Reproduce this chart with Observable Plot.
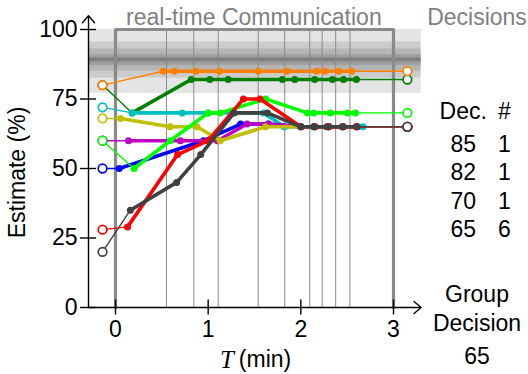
<!DOCTYPE html>
<html><head><meta charset="utf-8">
<script src="https://cdn.jsdelivr.net/npm/d3@7"></script>
<script src="https://cdn.jsdelivr.net/npm/@observablehq/plot@0.6"></script>
<style>body{margin:0;background:#fff}#chart svg{display:block}</style>
</head><body><div id="chart"></div>
<script>
// ---- data ----
const xTicks = [0, 1, 2, 3];
const yTicks = [0, 25, 50, 75, 100];
const xDomain = [-0.2914, 3.2989];
const commWindow = [0, 3];
const initT = -0.14;
const finalT = 3.15;
const changeTimes = [0.55, 0.845, 1.108, 1.54, 1.826, 2.096, 2.23, 2.376, 2.53];
const bandLow = [77, 82.5, 85, 87, 88];
const bandHigh = [100, 95.5, 93, 91, 90];
const bandCenter = [89.3];

const people = ["orange", "darkgreen", "cyan", "blue", "magenta", "olive", "lime", "red", "darkgray"];
const colors = ["#ff8000", "#008000", "#00bfbf", "#0000ff", "#bf00bf", "#bfbf00", "#00ff00", "#ff0000", "#404040"];
const initialEst = [80, 80, 72, 50, 60, 68, 60, 28, 20];
const finalEst = [85, 82, 65, 65, 65, 65, 70, 65, 65];

const tOrange = [0.515, 0.637, 0.87, 1.12, 1.54, 1.85, 2.17, 2.26, 2.41, 2.55];
const vOrange = [85, 85, 85, 85, 85, 85, 85, 85, 85, 85];
const tDarkGreen = [0.18, 0.817, 1.018, 1.216, 1.80, 1.935, 2.15, 2.34, 2.46, 2.60];
const vDarkGreen = [70, 82, 82, 82, 82, 82, 82, 82, 82, 82];
const tCyan = [0.18, 0.72, 1.0, 1.6, 1.82, 2.0, 2.14, 2.3, 2.45, 2.67];
const vCyan = [70, 70, 70, 70, 65, 65, 65, 65, 65, 65];
const tBlue = [0.04, 0.95, 1.35, 1.65, 2.0, 2.15, 2.3, 2.45, 2.6];
const vBlue = [50, 60, 66, 66, 65, 65, 65, 65, 65];
const tMagenta = [0.14, 0.70, 1.1, 1.42, 1.65, 2.0, 2.15, 2.3, 2.45, 2.6];
const vMagenta = [60, 60, 60, 66, 66, 65, 65, 65, 65, 65];
const tOlive = [0.054, 0.59, 0.88, 1.13, 1.62, 2.0, 2.15, 2.3, 2.45, 2.6];
const vOlive = [68, 65, 65, 60, 65, 65, 65, 65, 65, 65];
const tLime = [0.2, 0.59, 1.0, 1.13, 1.62, 2.07, 2.14, 2.32, 2.5, 2.59];
const vLime = [50, 60, 70, 70, 75, 70, 70, 70, 70, 70];
const tRed = [0.13, 0.67, 1.0, 1.38, 1.56, 2.0, 2.15, 2.3, 2.45, 2.6];
const vRed = [29, 55, 60, 75, 75, 65, 65, 65, 65, 65];
const tDarkGray = [0.16, 0.66, 0.92, 1.28, 1.64, 2.0, 2.14, 2.28, 2.46, 2.61];
const vDarkGray = [35, 45, 55, 70, 70, 65, 65, 65, 65, 65];

const seriesT = [tOrange, tDarkGreen, tCyan, tBlue, tMagenta, tOlive, tLime, tRed, tDarkGray];
const seriesV = [vOrange, vDarkGreen, vCyan, vBlue, vMagenta, vOlive, vLime, vRed, vDarkGray];

const decValues = [85, 82, 70, 65];
const decCounts = [1, 1, 1, 6];
const groupDecision = 65;

// ---- build ----
const FONT = "Liberation Sans";
const FS = 23;
const bands = bandLow.map((lo, i) => ({lo, hi: bandHigh[i]}));
const frame = [
  {x: commWindow[0], y: 0}, {x: commWindow[0], y: 100},
  {x: commWindow[1], y: 100}, {x: commWindow[1], y: 0}
];

function personMarks(i) {
  const t = seriesT[i], v = seriesV[i], c = colors[i];
  const pts = t.map((x, k) => ({x, y: v[k]}));
  return [
    Plot.line([{x: initT, y: initialEst[i]}, pts[0]], {x: "x", y: "y", stroke: c, strokeWidth: 1.4}),
    Plot.line([pts[pts.length - 1], {x: finalT, y: finalEst[i]}], {x: "x", y: "y", stroke: c, strokeWidth: 1.4}),
    Plot.line(pts, {x: "x", y: "y", stroke: c, strokeWidth: 3.6, strokeLinejoin: "round"}),
    Plot.dot(pts, {x: "x", y: "y", r: 3.5, fill: c})
  ];
}
const circleOrder = [1, 0, 2, 3, 4, 5, 6, 7, 8];
const circleMarks = circleOrder.flatMap(i => [
  Plot.dot([initialEst[i]], {x: initT, y: d => d, r: 4.3, fill: "white", stroke: colors[i], strokeWidth: 1.7}),
  Plot.dot([finalEst[i]], {x: finalT, y: d => d, r: 4.3, fill: "white", stroke: colors[i], strokeWidth: 1.7})
]);

const txt = {fontFamily: FONT, fontSize: FS, fill: "black", textAnchor: "middle", lineAnchor: "middle"};

const chart = Plot.plot({
  width: 528, height: 374,
  marginLeft: 88, marginRight: 107.3, marginTop: 29, marginBottom: 67,
  x: {domain: xDomain, axis: null},
  y: {domain: [0, 100], axis: null},
  style: {fontFamily: FONT, background: "white", overflow: "visible"},
  marks: [
    Plot.rect(bands, {x1: xDomain[0], x2: xDomain[1], y1: "lo", y2: "hi", fill: "black", fillOpacity: 0.105}),
    Plot.ruleY(bandCenter, {x1: xDomain[0], x2: xDomain[1], stroke: "#7a7a7a", strokeWidth: 2}),
    Plot.ruleX(changeTimes, {y1: 0, y2: 100, stroke: "#8a8a8a", strokeWidth: 1}),
    Plot.line(frame, {x: "x", y: "y", stroke: "#8a8a8a", strokeWidth: 3.2}),
    ...people.flatMap((p, i) => personMarks(i)),
    ...circleMarks,
    // axes
    Plot.arrow([0], {x1: xDomain[0], x2: xDomain[1], y1: 0, y2: 0, stroke: "black", strokeWidth: 1.4, headLength: 10, headAngle: 80}),
    Plot.arrow([0], {x1: xDomain[0], x2: xDomain[0], y1: 0, y2: 105, stroke: "black", strokeWidth: 1.4, headLength: 10, headAngle: 80}),
    Plot.tickY(yTicks, {y: d => d, dx: -8, insetRight: 316.7, stroke: "black", strokeWidth: 1.4}),
    Plot.tickX(xTicks, {x: d => d, dy: 7.5, insetTop: 263, stroke: "black", strokeWidth: 1.4}),
    Plot.text(yTicks, {y: d => d, text: d => String(d), frameAnchor: "left", dx: -11, ...txt, textAnchor: "end"}),
    Plot.text(xTicks, {x: d => d, text: d => String(d), frameAnchor: "bottom", dy: 22.5, ...txt}),
    Plot.text(["Estimate (%)"], {text: d => d, frameAnchor: "left", dx: -70.4, dy: 4, rotate: -90, ...txt}),
    Plot.text(["T"], {text: d => d, frameAnchor: "bottom", dx: -21, dy: 52, ...txt, textAnchor: "end", fontFamily: "Liberation Serif", fontStyle: "italic", fontSize: 25}),
    Plot.text(["(min)"], {text: d => d, frameAnchor: "bottom", dx: -16, dy: 52, ...txt, textAnchor: "start"}),
    Plot.text(["real-time Communication"], {text: d => d, frameAnchor: "top", dx: -1, dy: -11.5, ...txt, fill: "#808080"}),
    Plot.text(["Decisions"], {text: d => d, frameAnchor: "top-right", dx: 55.8, dy: -11.5, ...txt, fill: "#808080"}),
    Plot.text(["Dec."], {text: d => d, frameAnchor: "top-right", dx: 42, dy: 82, ...txt}),
    Plot.text(["#"], {text: d => d, frameAnchor: "top-right", dx: 83.3, dy: 82, ...txt}),
    ...decValues.flatMap((v, i) => [
      Plot.text([v], {text: d => String(d), frameAnchor: "top-right", dx: 42, dy: 115 + i * 28.5, ...txt}),
      Plot.text([decCounts[i]], {text: d => String(d), frameAnchor: "top-right", dx: 83.3, dy: 115 + i * 28.5, ...txt})
    ]),
    Plot.text(["Group"], {text: d => d, frameAnchor: "bottom-right", dx: 55.8, dy: -12.6, ...txt}),
    Plot.text(["Decision"], {text: d => d, frameAnchor: "bottom-right", dx: 55.8, dy: 16, ...txt}),
    Plot.text([groupDecision], {text: d => String(d), frameAnchor: "bottom-right", dx: 55.8, dy: 49.2, ...txt})
  ]
});
document.getElementById("chart").appendChild(chart);
</script>
</body></html>
